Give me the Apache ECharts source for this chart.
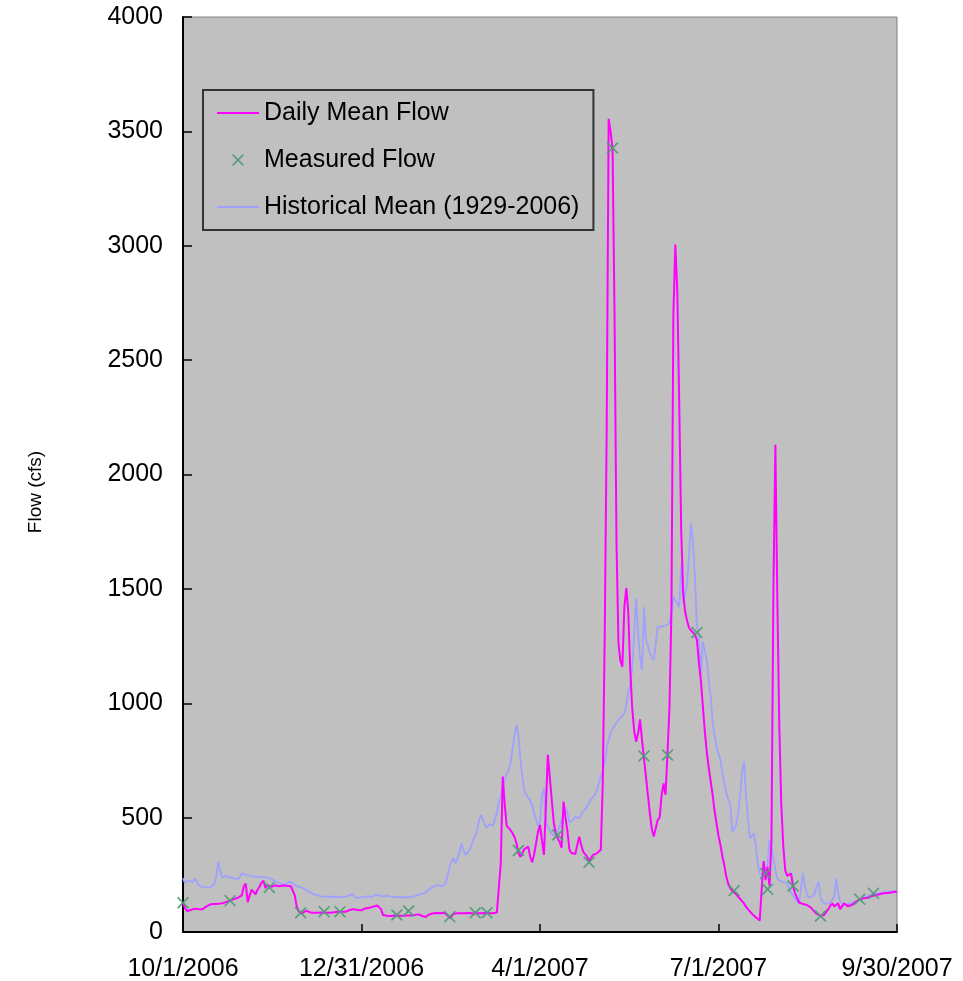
<!DOCTYPE html>
<html>
<head>
<meta charset="utf-8">
<title>Daily Mean Flow, Water Year 2007</title>
<script src="https://cdn.jsdelivr.net/npm/echarts@6/dist/echarts.min.js"></script>
<style>
  html, body { margin: 0; padding: 0; background: #ffffff; }
  #chart { width: 963px; height: 981px; }
</style>
</head>
<body>
<div id="chart"></div>
<script>
// Day index 0 = 10/1/2006 ... 364 = 9/30/2007
const tickDays = [0, 91, 182, 273, 364];
const tickLabels = ['10/1/2006', '12/31/2006', '4/1/2007', '7/1/2007', '9/30/2007'];

// Daily mean flow (cfs), one value per day
const dailyMeanFlow = [
  125,105,92,95,96,97,102,103,100,97,
  100,107,112,118,121,120,122,122,123,124,
  126,128,131,134,137,141,144,147,150,152,
  160,200,212,130,160,185,190,165,185,198,
  215,225,192,205,208,198,200,204,205,200,
  201,203,203,202,203,200,198,160,110,89,
  85,84,88,93,88,85,84,84,85,84,
  84,85,86,84,85,84,85,86,88,89,
  90,89,91,89,92,96,98,100,103,96,
  90,95,98,103,104,106,108,111,110,116,
  122,100,74,72,71,71,70,71,72,72,
  71,72,71,72,72,73,72,71,74,77,
  77,76,70,64,66,75,80,81,82,83,
  83,82,83,84,84,72,60,68,80,82,
  82,81,82,83,82,82,83,82,81,82,
  82,83,82,82,83,82,82,81,82,83,
  85,90,300,680,560,465,455,445,432,415,
  388,345,329,345,362,370,373,329,305,340,
  388,440,468,400,337,550,775,778,577,480,
  432,410,395,367,570,500,440,360,345,342,
  341,380,417,380,351,340,329,310,305,337,
  345,344,345,360,650,1300,2200,3555,3500,3420,
  2700,1700,1263,1185,1160,1420,1503,1400,1150,980,
  880,832,868,930,840,760,679,600,520,450,
  417,410,490,500,600,650,600,780,980,1400,
  2700,3005,2800,2300,1750,1480,1400,1360,1330,1318,
  1313,1300,1277,1180,1100,990,880,790,720,660,
  600,530,475,420,380,330,290,240,210,192,
  180,175,165,155,147,135,125,111,100,90,
  80,74,65,58,50,184,310,227,285,200,
  400,1500,2130,1450,900,560,380,271,245,250,
  256,200,170,150,130,125,122,120,118,115,
  108,98,92,80,74,70,67,75,89,100,
  115,125,112,118,125,100,96,125,118,112,
  111,118,125,132,140,143,145,147,148,150,
  154,156,160,162,163,165,167,169,170,171,
  172,173,175,176,176
];

// Historical daily mean flow 1929-2006 (cfs)
const historicalMean = [
  235,215,208,225,222,218,235,240,205,197,
  195,195,196,195,194,196,210,245,307,265,
  238,235,245,240,239,236,234,232,230,240,
  256,252,249,248,246,244,242,243,242,242,
  241,240,239,238,235,230,227,222,218,214,
  212,210,207,205,220,225,212,205,200,198,
  196,192,188,184,178,172,167,165,162,159,
  157,156,155,154,154,155,154,153,153,152,
  152,153,154,154,157,162,166,160,150,148,
  150,152,154,157,156,155,154,156,162,165,
  160,154,155,157,159,157,155,154,153,152,
  152,152,152,152,152,152,153,154,156,160,
  162,163,167,171,176,183,190,196,200,204,
  205,201,198,200,215,250,285,310,322,300,
  295,350,388,360,337,345,358,380,402,420,
  446,490,511,490,465,455,470,475,465,458,
  520,565,595,640,664,690,708,740,800,860,
  905,860,760,680,615,600,592,575,555,520,
  490,465,480,600,628,480,460,445,430,420,
  425,440,460,490,510,545,520,480,475,490,
  504,500,497,515,525,533,548,563,580,588,
  599,620,650,680,700,745,800,840,870,890,
  900,915,927,935,945,956,990,1050,1080,1150,
  1300,1459,1310,1200,1145,1420,1280,1250,1220,1200,
  1190,1262,1335,1342,1335,1328,1340,1345,1349,1400,
  1466,1450,1437,1422,1604,1437,1480,1524,1650,1787,
  1700,1550,1335,1300,1120,1270,1230,1189,1100,1030,
  920,860,810,780,752,690,650,606,580,560,
  440,450,468,520,592,700,745,600,500,410,
  402,431,380,300,256,248,242,250,300,402,
  370,320,271,235,225,220,218,215,213,190,
  172,165,147,135,125,190,256,200,169,150,
  147,158,169,200,220,147,135,125,125,124,
  125,140,154,235,170,133,125,118,120,122,
  125,128,130,133,137,141,145,147,152,157,
  162,163,164,166,168,170,171,172,173,174,
  176,177,178,179,180
];

// Field measurements: day index and measured flow (cfs)
const measuredDays = [0, 24, 44, 60, 72, 80, 109, 115, 136, 149, 155, 171, 191, 207,
  219, 235, 247, 262, 281, 297, 298, 311, 325, 345, 352];
const measuredFlow = [128, 137, 195, 84, 89, 89, 74, 92, 67, 84, 84, 356, 424, 305,
  3427, 769, 774, 1309, 181, 256, 187, 201, 70, 143, 169];

const FONT = '"Liberation Sans", Arial, sans-serif';
const X_MARK = 'path://M1,0 L5,4 L9,0 L10,1 L6,5 L10,9 L9,10 L5,6 L1,10 L0,9 L4,5 L0,1 Z';
const LINE_ICON = 'path://M0,0 L42,0 L42,2 L0,2 Z';

const MAGENTA = '#ff00ff';
const GREEN = '#4e9a72';
const PERIWINKLE = '#a0a0ff';

const toPairs = arr => arr.map((v, i) => [i, v]);

const chart = echarts.init(document.getElementById('chart'), null, { renderer: 'canvas' });

chart.setOption({
  animation: false,
  backgroundColor: '#ffffff',
  textStyle: { fontFamily: FONT },
  grid: {
    left: 183, right: 66, top: 17, bottom: 49,
    outerBoundsMode: 'none',
    containLabel: false,
    show: true,
    backgroundColor: '#c0c0c0',
    borderColor: '#808080',
    borderWidth: 1
  },
  legend: {
    orient: 'vertical',
    left: 203,
    top: 90,
    padding: [10, 14, 10, 14],
    itemGap: 21,
    itemWidth: 42,
    itemHeight: 12,
    itemTextGap: 6,
    borderColor: '#333333',
    borderWidth: 2,
    backgroundColor: 'transparent',
    selectedMode: false,
    textStyle: { fontFamily: FONT, fontSize: 25, color: '#000000', lineHeight: 26 },
    data: [
      { name: 'Daily Mean Flow', icon: LINE_ICON, itemStyle: { color: MAGENTA } },
      { name: 'Measured Flow', icon: X_MARK, itemStyle: { color: GREEN } },
      { name: 'Historical Mean (1929-2006)', icon: LINE_ICON, itemStyle: { color: PERIWINKLE } }
    ]
  },
  xAxis: {
    type: 'value',
    min: 0,
    max: 364,
    interval: 91,
    axisLine: { show: true, onZero: false, lineStyle: { color: '#000000', width: 2 } },
    axisTick: { show: true, inside: true, length: 8, lineStyle: { color: '#000000', width: 1.5 } },
    splitLine: { show: false },
    axisLabel: {
      margin: 25,
      fontSize: 25,
      fontFamily: FONT,
      color: '#000000',
      formatter: v => {
        const k = tickDays.indexOf(Math.round(v));
        return k >= 0 ? tickLabels[k] : '';
      }
    }
  },
  yAxis: {
    type: 'value',
    min: 0,
    max: 4000,
    interval: 500,
    name: 'Flow (cfs)',
    nameLocation: 'middle',
    nameGap: 138,
    nameTextStyle: { fontFamily: FONT, fontSize: 19, color: '#000000', padding: [0, 35, 0, 0] },
    axisLine: { show: true, lineStyle: { color: '#000000', width: 2 } },
    axisTick: { show: true, inside: true, length: 9, lineStyle: { color: '#000000', width: 1.5 } },
    splitLine: { show: false },
    axisLabel: {
      margin: 20,
      fontSize: 25,
      fontFamily: FONT,
      color: '#000000',
      formatter: v => String(v)
    }
  },
  series: [
    {
      name: 'Daily Mean Flow',
      type: 'line',
      data: toPairs(dailyMeanFlow),
      symbol: 'none',
      showSymbol: false,
      lineStyle: { color: MAGENTA, width: 2 },
      itemStyle: { color: MAGENTA },
      z: 4
    },
    {
      name: 'Measured Flow',
      type: 'scatter',
      data: measuredDays.map((d, i) => [d, measuredFlow[i]]),
      symbol: X_MARK,
      symbolSize: 12,
      itemStyle: { color: GREEN, opacity: 0.9 },
      z: 5
    },
    {
      name: 'Historical Mean (1929-2006)',
      type: 'line',
      data: toPairs(historicalMean),
      symbol: 'none',
      showSymbol: false,
      lineStyle: { color: PERIWINKLE, width: 1.8 },
      itemStyle: { color: PERIWINKLE },
      z: 3
    }
  ]
});
</script>
</body>
</html>
